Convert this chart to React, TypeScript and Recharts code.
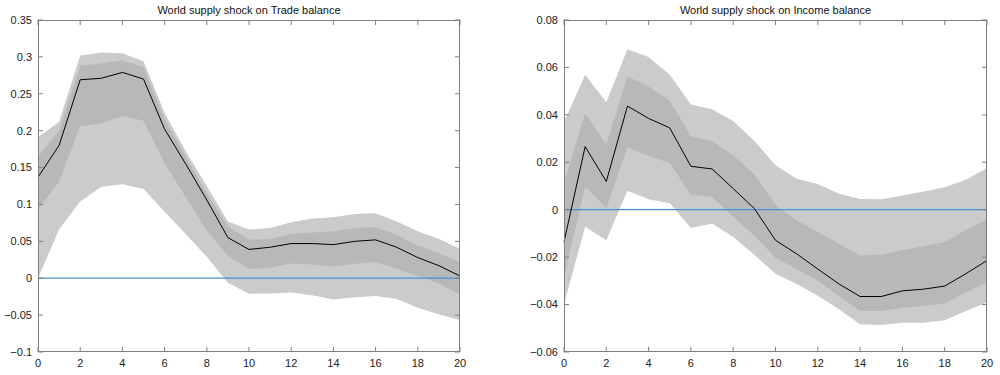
import {
  ComposedChart,
  Area,
  Line,
  XAxis,
  YAxis,
  ReferenceLine,
} from "recharts";

const steps = [0, 1, 2, 3, 4, 5, 6, 7, 8, 9, 10, 11, 12, 13, 14, 15, 16, 17, 18, 19, 20];
const xTicks = [0, 2, 4, 6, 8, 10, 12, 14, 16, 18, 20];

// Trade balance
const tradeMean = [0.137, 0.18, 0.269, 0.271, 0.279, 0.27, 0.202, 0.155, 0.106, 0.055, 0.039, 0.042, 0.047, 0.047, 0.0455, 0.05, 0.052, 0.042, 0.028, 0.017, 0.003];
const tradeOuterHi = [0.191, 0.212, 0.302, 0.306, 0.305, 0.294, 0.224, 0.172, 0.125, 0.077, 0.066, 0.068, 0.076, 0.081, 0.0825, 0.087, 0.088, 0.077, 0.0635, 0.053, 0.04];
const tradeOuterLo = [0.0, 0.066, 0.104, 0.124, 0.1275, 0.121, 0.09, 0.06, 0.029, -0.006, -0.021, -0.0207, -0.0193, -0.023, -0.0288, -0.0257, -0.024, -0.028, -0.04, -0.049, -0.057];
const tradeInnerHi = [0.165, 0.2, 0.288, 0.291, 0.2955, 0.286, 0.215, 0.165, 0.115, 0.07, 0.052, 0.053, 0.06, 0.062, 0.0635, 0.068, 0.069, 0.059, 0.044, 0.034, 0.0216];
const tradeInnerLo = [0.093, 0.131, 0.206, 0.21, 0.22, 0.2135, 0.156, 0.11, 0.065, 0.03, 0.0127, 0.014, 0.02, 0.0185, 0.016, 0.0195, 0.0216, 0.0127, 0.003, -0.007, -0.022];
const tradeTicks = [-0.1, -0.05, 0, 0.05, 0.1, 0.15, 0.2, 0.25, 0.3, 0.35];

// Income balance
const incomeMean = [-0.0136, 0.0266, 0.0119, 0.0437, 0.0385, 0.0345, 0.0183, 0.0172, 0.0089, 0.0005, -0.0129, -0.0186, -0.025, -0.0313, -0.0366, -0.0366, -0.0342, -0.0335, -0.0322, -0.027, -0.0214];
const incomeOuterHi = [0.037, 0.0569, 0.0453, 0.0677, 0.0644, 0.0569, 0.0444, 0.0424, 0.0374, 0.029, 0.0187, 0.0131, 0.0108, 0.0067, 0.0045, 0.0044, 0.006, 0.0077, 0.0095, 0.0126, 0.0176];
const incomeOuterLo = [-0.0398, -0.0072, -0.0129, 0.008, 0.0044, 0.0027, -0.0077, -0.0058, -0.0115, -0.019, -0.027, -0.0313, -0.0363, -0.042, -0.0483, -0.0486, -0.0477, -0.0477, -0.0466, -0.0427, -0.0391];
const incomeInnerHi = [0.0112, 0.0407, 0.0274, 0.0562, 0.052, 0.046, 0.031, 0.029, 0.0229, 0.015, 0.002, -0.0044, -0.0094, -0.0143, -0.0193, -0.0189, -0.0171, -0.0154, -0.0136, -0.0086, -0.0041];
const incomeInnerLo = [-0.0285, 0.0098, 0.0006, 0.0264, 0.0226, 0.0197, 0.0063, 0.0055, -0.003, -0.011, -0.0203, -0.025, -0.03, -0.0363, -0.0427, -0.0427, -0.0413, -0.0406, -0.0396, -0.0349, -0.0306];
const incomeTicks = [-0.06, -0.04, -0.02, 0, 0.02, 0.04, 0.06, 0.08];

const AXIS = "#7f7f7f";
const TEXT = "#222";
const FONT = "'Liberation Sans', Arial, sans-serif";
const TOP = 20;
const BOTTOM = 352;
const TICK = 5;

const fmt = (v: number) =>
  v === 0 ? "0" : String(+v.toFixed(2)).replace("-", "\u2212");

function build(mean: number[], oLo: number[], oHi: number[], iLo: number[], iHi: number[]) {
  return steps.map((s, i) => ({
    step: s,
    mean: mean[i],
    outer: [oLo[i], oHi[i]],
    inner: [iLo[i], iHi[i]],
  }));
}

type PanelProps = {
  title: string;
  left: number;
  yWidth: number;
  rightMargin: number;
  ticks: number[];
  data: ReturnType<typeof build>;
};

function Panel({ title, left, yWidth, rightMargin, ticks, data }: PanelProps) {
  const lo = ticks[0];
  const hi = ticks[ticks.length - 1];
  const right = 500 - rightMargin;
  const plotW = right - yWidth;

  // x tick: label below, inward marks at bottom and top of the box
  const xTick = (p: any) => (
    <g>
      <line x1={p.x} x2={p.x} y1={BOTTOM} y2={BOTTOM - TICK} stroke={AXIS} strokeWidth={1} />
      <line x1={p.x} x2={p.x} y1={TOP} y2={TOP + TICK} stroke={AXIS} strokeWidth={1} />
      <text x={p.x} y={p.y} dy="0.71em" textAnchor="middle" fill={TEXT} fontSize={11} fontFamily={FONT}>
        {p.payload.value}
      </text>
    </g>
  );

  // y tick: label left, inward marks at left and right of the box
  const yTick = (p: any) => (
    <g>
      <line x1={yWidth} x2={yWidth + TICK} y1={p.y} y2={p.y} stroke={AXIS} strokeWidth={1} />
      <line x1={right} x2={right - TICK} y1={p.y} y2={p.y} stroke={AXIS} strokeWidth={1} />
      <text x={p.x} y={p.y} dy="0.355em" textAnchor="end" fill={TEXT} fontSize={11} fontFamily={FONT}>
        {fmt(p.payload.value)}
      </text>
    </g>
  );

  return (
    <div style={{ position: "absolute", top: 0, left, width: 500, height: 375 }}>
      <div
        style={{
          position: "absolute",
          top: 3,
          left: yWidth,
          width: plotW,
          textAlign: "center",
          fontFamily: FONT,
          fontSize: 11,
          lineHeight: "14px",
          color: "#111",
        }}
      >
        {title}
      </div>
      <div
        style={{
          position: "absolute",
          top: TOP,
          left: yWidth,
          width: plotW,
          height: BOTTOM - TOP,
          boxSizing: "border-box",
          border: `1px solid ${AXIS}`,
          pointerEvents: "none",
          zIndex: 2,
        }}
      />
      <ComposedChart
        width={500}
        height={375}
        data={data}
        margin={{ top: TOP, right: rightMargin, bottom: 1, left: 0 }}
      >
        <XAxis
          xAxisId="b"
          dataKey="step"
          type="number"
          domain={[0, 20]}
          ticks={xTicks}
          height={22}
          tickSize={0}
          tickMargin={7}
          axisLine={false}
          tickLine={false}
          tick={xTick}
        />
        <YAxis
          yAxisId="l"
          type="number"
          domain={[lo, hi]}
          ticks={ticks}
          width={yWidth}
          tickSize={0}
          tickMargin={6}
          axisLine={false}
          tickLine={false}
          tick={yTick}
        />
        <Area
          xAxisId="b"
          yAxisId="l"
          type="linear"
          dataKey="outer"
          stroke="none"
          fill="#cbcbcb"
          fillOpacity={1}
          isAnimationActive={false}
        />
        <Area
          xAxisId="b"
          yAxisId="l"
          type="linear"
          dataKey="inner"
          stroke="none"
          fill="#b8b8b8"
          fillOpacity={1}
          isAnimationActive={false}
        />
        <ReferenceLine xAxisId="b" yAxisId="l" y={0} stroke="#4a90d0" strokeWidth={1.2} />
        <Line
          xAxisId="b"
          yAxisId="l"
          type="linear"
          dataKey="mean"
          stroke="#000"
          strokeWidth={1}
          dot={false}
          isAnimationActive={false}
        />
      </ComposedChart>
    </div>
  );
}

export default function App() {
  const trade = build(tradeMean, tradeOuterLo, tradeOuterHi, tradeInnerLo, tradeInnerHi);
  const income = build(incomeMean, incomeOuterLo, incomeOuterHi, incomeInnerLo, incomeInnerHi);

  return (
    <div style={{ position: "absolute", top: 0, left: 0, width: 1000, height: 375, background: "#fff" }}>
      <Panel
        title="World supply shock on Trade balance"
        left={0}
        yWidth={38}
        rightMargin={40}
        ticks={tradeTicks}
        data={trade}
      />
      <Panel
        title="World supply shock on Income balance"
        left={500}
        yWidth={64}
        rightMargin={13}
        ticks={incomeTicks}
        data={income}
      />
    </div>
  );
}
